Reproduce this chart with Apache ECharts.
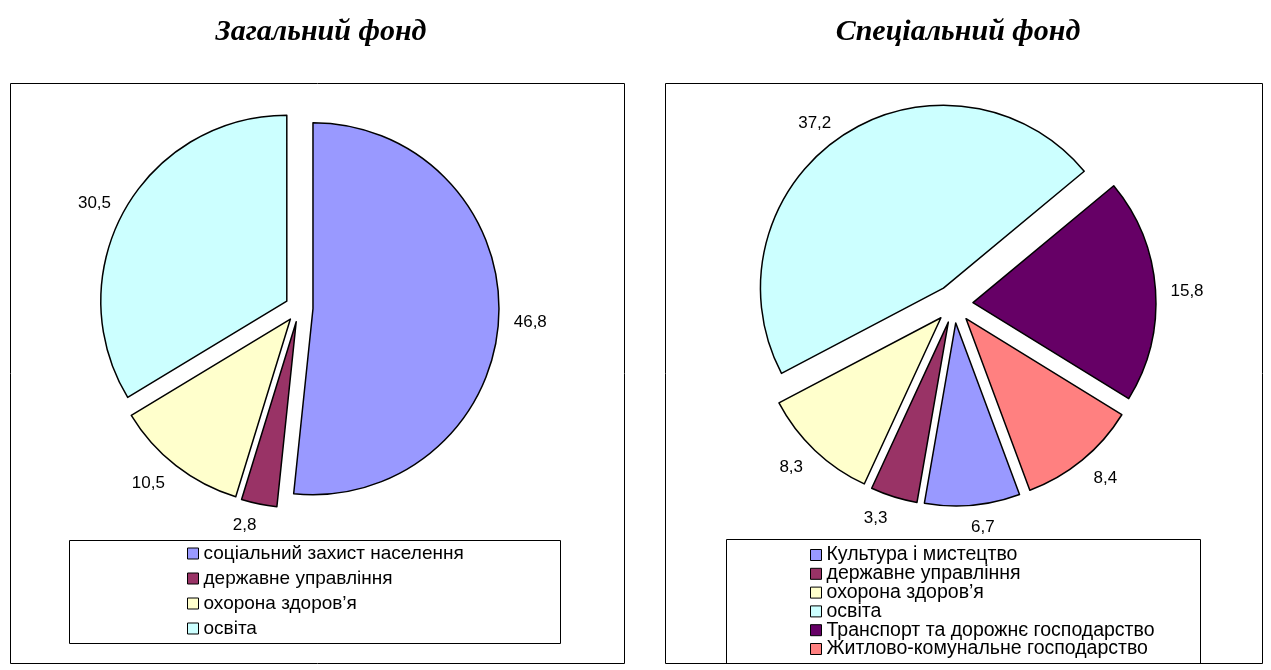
<!DOCTYPE html>
<html>
<head>
<meta charset="utf-8">
<script src="https://cdn.jsdelivr.net/npm/echarts@6/dist/echarts.min.js"></script>
<style>
  html, body { margin: 0; padding: 0; background: #fff; }
  #chart { width: 1271px; height: 670px; }
</style>
</head>
<body>
<div id="chart"></div>
<script>
// Загальний фонд
const generalNames = ['соціальний захист населення', 'державне управління', 'охорона здоров’я', 'освіта']
const generalValues = [46.8, 2.8, 10.5, 30.5]
const generalColors = ['#9999FF', '#993366', '#FFFFCC', '#CCFFFF']

// Спеціальний фонд
const specialNames = ['Культура і мистецтво', 'державне управління', 'охорона здоров’я', 'освіта',
  'Транспорт та дорожнє господарство', 'Житлово-комунальне господарство']
const specialValues = [6.7, 3.3, 8.3, 37.2, 15.8, 8.4]
const specialColors = ['#9999FF', '#993366', '#FFFFCC', '#CCFFFF', '#660066', '#FF8080']

const FONT = 'Arial, "Liberation Sans", sans-serif'
const SERIF = '"Liberation Serif", "Times New Roman", serif'

// excel puts the label box fully outside the slice, so nudge labels by mid-angle
function labelShifts(values, startAngle) {
  const total = values.reduce((a, b) => a + b, 0)
  let acc = 0
  return values.map(v => {
    const mid = startAngle - (acc + v / 2) / total * 360
    acc += v
    const rad = mid * Math.PI / 180
    const dx = Math.cos(rad)
    const dy = -Math.sin(rad)
    let ox = 0
    if (Math.abs(dx) < 0.35) ox = -Math.sign(dx) * 10 * (1 - Math.abs(dx) / 0.35)
    return { dx: ox, dy: dy * 9 + 3 }
  })
}

function pieSeries(names, values, colors, center, radius, startAngle, offset) {
  const shifts = labelShifts(values, startAngle)
  return {
    type: 'pie',
    center: center,
    radius: radius,
    startAngle: startAngle,
    clockwise: true,
    selectedMode: 'multiple',
    selectedOffset: offset,
    avoidLabelOverlap: false,
    silent: true,
    animation: false,
    itemStyle: { borderColor: '#000', borderWidth: 1.5 },
    label: {
      show: true,
      position: 'outside',
      color: '#000',
      fontFamily: FONT,
      fontSize: 17,
      formatter: p => String(p.value).replace('.', ',')
    },
    labelLine: { show: false, length: 10, length2: 0 },
    labelLayout: p => shifts[p.dataIndex],
    emphasis: { disabled: true },
    data: names.map((n, i) => ({ name: n, value: values[i], selected: true, itemStyle: { color: colors[i] } }))
  }
}

const chart = echarts.init(document.getElementById('chart'))

const option = {
  backgroundColor: '#fff',
  animation: false,
  title: [
    {
      text: 'Загальний фонд', left: 316, top: 12, textAlign: 'center',
      textStyle: { fontFamily: SERIF, fontStyle: 'italic', fontWeight: 'bold', fontSize: 30, color: '#000' }
    },
    {
      text: 'Спеціальний фонд', left: 953, top: 12, textAlign: 'center',
      textStyle: { fontFamily: SERIF, fontStyle: 'italic', fontWeight: 'bold', fontSize: 30, color: '#000' }
    }
  ],
  graphic: [
    { type: 'rect', shape: { x: 10.5, y: 83.5, width: 614, height: 580 }, style: { fill: 'none', stroke: '#000', lineWidth: 1 }, z: -1 },
    { type: 'rect', shape: { x: 665.5, y: 83.5, width: 597, height: 580 }, style: { fill: 'none', stroke: '#000', lineWidth: 1 }, z: -1 },
    { type: 'rect', shape: { x: 69.5, y: 540.5, width: 491, height: 103 }, style: { fill: 'none', stroke: '#000', lineWidth: 1 }, z: -1 },
    { type: 'rect', shape: { x: 726.5, y: 539.5, width: 474, height: 124 }, style: { fill: 'none', stroke: '#000', lineWidth: 1 }, z: -1 }
  ],
  legend: [
    {
      data: generalNames,
      orient: 'vertical',
      left: 187, top: 544,
      padding: 0,
      itemWidth: 11, itemHeight: 11, itemGap: 6,
      icon: 'rect',
      selectedMode: false,
      itemStyle: { borderColor: '#000', borderWidth: 1 },
      textStyle: { fontFamily: FONT, fontSize: 19, lineHeight: 19, color: '#000' }
    },
    {
      data: specialNames,
      orient: 'vertical',
      left: 810, top: 545,
      height: 130,
      padding: 0,
      itemWidth: 11, itemHeight: 11, itemGap: -1.2,
      icon: 'rect',
      selectedMode: false,
      itemStyle: { borderColor: '#000', borderWidth: 1 },
      textStyle: { fontFamily: FONT, fontSize: 19.5, lineHeight: 18, color: '#000' }
    }
  ],
  series: [
    pieSeries(generalNames, generalValues, generalColors, [299, 308], 186, 90, 14),
    pieSeries(specialNames, specialValues, specialColors, [954, 304], 183, 290.4, 19)
  ]
}

chart.setOption(option)
</script>
</body>
</html>
